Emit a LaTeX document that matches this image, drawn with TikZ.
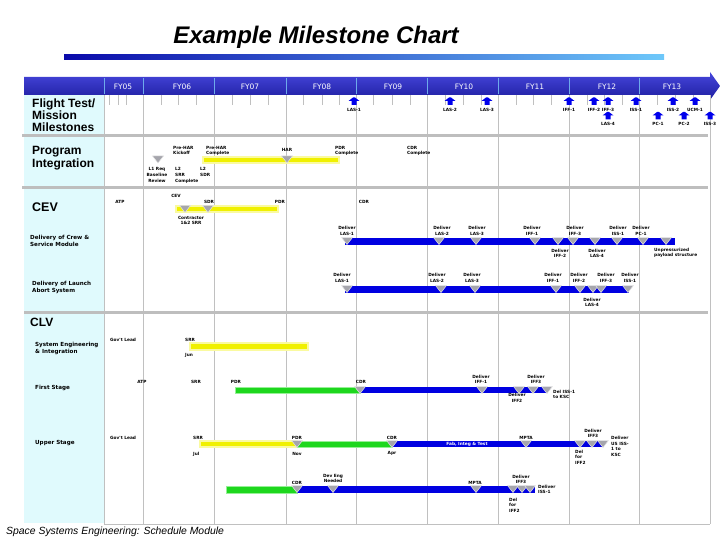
\documentclass[tikz,border=0pt]{standalone}
\usepackage{fontspec}
\setmainfont{Liberation Sans}
\newfontfamily\djv{DejaVu Sans}
\newcommand\lblfont{\djv\bfseries\fontsize{4.3}{5.5}\selectfont}
\newcommand\subfont{\djv\bfseries\fontsize{5.6}{6.8}\selectfont}
\newcommand\hdrfont{\djv\fontsize{7.5}{8}\selectfont}
\definecolor{hdrtop}{RGB}{70,70,220}
\definecolor{hdrbot}{RGB}{30,30,160}
\definecolor{hdrline}{RGB}{110,170,235}
\definecolor{colcyan}{RGB}{224,250,253}
\definecolor{gridgray}{RGB}{192,192,192}
\definecolor{sepgray}{RGB}{190,190,190}
\definecolor{tgray}{RGB}{165,165,172}
\definecolor{arrblue}{RGB}{0,0,235}
\definecolor{barblue}{RGB}{0,0,225}
\definecolor{baryellow}{RGB}{240,240,0}
\definecolor{barglowy}{RGB}{250,250,160}
\definecolor{bargreen}{RGB}{30,215,30}
\definecolor{barglowg}{RGB}{150,240,150}
\definecolor{titledark}{RGB}{10,10,170}
\definecolor{titlelight}{RGB}{110,200,250}
\tikzset{
  lbl/.style={font=\lblfont, inner sep=0pt, align=center, anchor=north},
  lblw/.style={font=\lblfont, inner sep=0pt, align=left, anchor=north west},
  rowlab/.style={inner sep=0pt, align=left, anchor=north west},
  sublab/.style={font=\subfont, inner sep=0pt, align=left, anchor=north west},
  fy/.style={font=\hdrfont, text=white, inner sep=0pt},
  gridline/.style={draw=gridgray, line width=0.9pt},
  sepline/.style={draw=sepgray, line width=3pt},
  ybar/.style={fill=baryellow, draw=barglowy, line width=1.2pt},
  gbar/.style={fill=bargreen, draw=barglowg, line width=1pt},
  bbar/.style={fill=barblue},
  tri/.pic={\filldraw[fill=tgray, draw=white!80!gray, line width=0.5pt] (-5.5,0) -- (5.5,0) -- (0,7) -- cycle;},
  uparr/.pic={\fill[arrblue] (-1,0) -- (1,0) -- (5.5,3.5) -- (2.5,3.5) -- (2.5,7.5) -- (-2.5,7.5) -- (-2.5,3.5) -- (-5.5,3.5) -- cycle;}
}
\begin{document}
\begin{tikzpicture}[x=1pt,y=-1pt]
\useasboundingbox (0,0) rectangle (720,540);
% title
\node[font=\bfseries\itshape\fontsize{24}{24}\selectfont, inner sep=0pt] (title) at (316,37) {Example Milestone Chart};
\shade[left color=titledark, right color=titlelight] (64,55) rectangle (664,60);
% left column
\fill[colcyan] (24,95) rectangle (104,523);
% header
\shade[top color=hdrtop, bottom color=hdrbot] (24,77) -- (710,77) -- (710,72) -- (720,86) -- (710,100) -- (710,95) -- (24,95) -- cycle;
\foreach \x in {104,143,214,286,356,427,498,569,639}
  \draw[hdrline, line width=0.8pt] (\x,78) -- (\x,94);
\foreach \x/\t [count=\i] in {123/FY05,182/FY06,250/FY07,322/FY08,393/FY09,464/FY10,535/FY11,607/FY12,672/FY13}
  \node[fy] (fy\i) at (\x,87) {\t};
% grid
\foreach \x in {104,143,214,286,356,427,498,569,639,710}
  \draw[gridline] (\x,95) -- (\x,524);
\draw[gridline] (104,524) -- (710,524);
\foreach \x in {109,118,126,161,178,196,232,250,268,303,322,339,373,392,410,445,463,481,516,533,551,587,604,622,657,675,693}
  \draw[gridline] (\x,95) -- (\x,105);
% separators
\draw[sepline] (22,136) -- (708,136);
\draw[sepline] (22,187.5) -- (708,187.5);
\draw[sepline] (24,312) -- (708,312);
% row labels
\node[rowlab, font=\bfseries\fontsize{12}{11.6}\selectfont] (rFT) at (32,99) {Flight Test/\\Mission\\Milestones};
\node[rowlab, font=\bfseries\fontsize{12}{13}\selectfont] (rPI) at (32,146) {Program\\Integration};
\node[rowlab, font=\bfseries\fontsize{12.5}{13}\selectfont] (rCEV) at (32,203) {CEV};
\node[sublab] (rCSM) at (30,235.5) {Delivery of Crew \&\\Service Module};
\node[sublab] (rLAS) at (32,281) {Delivery of Launch\\Abort System};
\node[rowlab, font=\bfseries\fontsize{12}{13}\selectfont] (rCLV) at (30,318) {CLV};
\node[sublab] (rSEI) at (35,342.5) {System Engineering\\\& Integration};
\node[sublab] (rFS) at (35,385) {First Stage};
\node[sublab] (rUS) at (35,440) {Upper Stage};
% flight test arrows
\foreach \x/\t [count=\i] in {354/LAS-1,450/LAS-2,487/LAS-3,569/IFF-1,594/IFF-2,608/IFF-3,636/ISS-1,673/ISS-2,695/UCM-1}
  {\pic at (\x,97.5) {uparr}; \node[lbl] (fta\i) at (\x,108) {\t};}
\foreach \x/\t [count=\i] in {608/LAS-4,658/PC-1,684/PC-2,710/ISS-3}
  {\pic at (\x,112) {uparr}; \node[lbl] (ftb\i) at (\x,122.5) {\t};}
% program integration
\path[ybar] (203,157) rectangle (339,163);
\pic at (158,156) {tri};
\pic at (287,156) {tri};
\node[lblw] (pi1) at (173,146) {Pre-HAR\\Kickoff};
\node[lblw] (pi2) at (206,146) {Pre-HAR\\Complete};
\node[lbl] (pi3) at (287,148) {HAR};
\node[lblw] (pi4) at (335,146) {PDR\\Complete};
\node[lblw] (pi5) at (407,146) {CDR\\Complete};
\node[lbl, font=\djv\bfseries\fontsize{4.3}{5.8}\selectfont] (pi6) at (157,167.5) {L1 Req\\Baseline\\Review};
\node[lblw, font=\djv\bfseries\fontsize{4.3}{5.8}\selectfont] (pi7) at (175,167.5) {L2\\SRR\\Complete};
\node[lblw, font=\djv\bfseries\fontsize{4.3}{5.8}\selectfont] (pi8) at (200,167.5) {L2\\SDR};
% CEV
\path[ybar] (176,206) rectangle (278,212);
\pic at (185,205.5) {tri};
\pic at (208,205.5) {tri};
\node[lbl] (cev1) at (120,200) {ATP};
\node[lbl] (cev2) at (176,194) {CEV};
\node[lbl] (cev3) at (209,200) {SDR};
\node[lbl] (cev4) at (280,200) {PDR};
\node[lbl] (cev5) at (364,200) {CDR};
\node[lbl] (cev6) at (191,216) {Contractor\\1\&2 SRR};
% crew & service module
\fill[bbar] (345,238) rectangle (675,245);
\foreach \x in {347,439,476,535,558,573,595,617,643,666}
  \pic at (\x,237.5) {tri};
\foreach \x/\t [count=\i] in {347/LAS-1,442/LAS-2,477/LAS-3,532/IFF-1,575/IFF-3,618/ISS-1,641/PC-1}
  \node[lbl] (csma\i) at (\x,226.5) {Deliver\\\t};
\foreach \x/\t [count=\i] in {560/IFF-2,597/LAS-4}
  \node[lbl] (csmb\i) at (\x,249) {Deliver\\\t};
\node[lblw] (csmc) at (654,248) {Unpressurized\\payload structure};
% launch abort system
\fill[bbar] (345,286) rectangle (629,293);
\foreach \x in {347,441,475,556,580,593,601,628}
  \pic at (\x,285.5) {tri};
\foreach \x/\t [count=\i] in {342/LAS-1,437/LAS-2,472/LAS-3,553/IFF-1,579/IFF-2,606/IFF-3,630/ISS-1}
  \node[lbl] (lasa\i) at (\x,273.5) {Deliver\\\t};
\node[lbl] (lasb) at (592,298) {Deliver\\LAS-4};
% system engineering & integration
\path[ybar] (190,343) rectangle (308,350);
\node[lblw] (sei1) at (110,338) {Gov't Lead};
\node[lblw] (sei2) at (185,338) {SRR};
\node[lblw] (sei3) at (185,353) {Jun};
% first stage
\path[gbar] (235,387) rectangle (360,393);
\fill[bbar] (360,387) rectangle (547,393);
\foreach \x in {360,482,519,533,547}
  \pic at (\x,386.5) {tri};
\node[lbl] (fs1) at (142,380) {ATP};
\node[lbl] (fs2) at (196,380) {SRR};
\node[lbl] (fs3) at (236,380) {PDR};
\node[lbl] (fs4) at (361,380) {CDR};
\node[lbl] (fs5) at (481,375) {Deliver\\IFF-1};
\node[lbl] (fs6) at (536,375) {Deliver\\IFF3};
\node[lbl] (fs7) at (517,393.5) {Deliver\\IFF2};
\node[lblw] (fs8) at (553,390) {Del ISS-1\\to KSC};
% upper stage (1)
\path[ybar] (200,441) rectangle (297,447);
\path[gbar] (297,441) rectangle (392,447);
\fill[bbar] (392,441) rectangle (604,447);
\foreach \x in {297,392,526,580,592,603}
  \pic at (\x,440.5) {tri};
\node[lblw] (us1) at (110,436) {Gov't Lead};
\node[lblw] (us2) at (193,436) {SRR};
\node[lblw] (us3) at (193,452) {Jul};
\node[lbl] (us4) at (297,436) {PDR};
\node[lbl] (us5) at (297,452) {Nov};
\node[lbl] (us6) at (392,436) {CDR};
\node[lbl] (us7) at (392,451) {Apr};
\node[font=\lblfont, text=white, inner sep=0pt] (us8) at (467,444) {Fab, Integ \& Test};
\node[lbl] (us9) at (526,436) {MPTA};
\node[lbl] (us10) at (593,429) {Deliver\\IFF3};
\node[lblw] (us11) at (575,450) {Del\\for\\IFF2};
\node[lblw] (us12) at (611,436.5) {Deliver\\US ISS-\\1 to\\KSC};
% upper stage (2)
\path[gbar] (226,486) rectangle (297,493);
\fill[bbar] (297,486) rectangle (535,493);
\foreach \x in {297,333,476,513,522,530}
  \pic at (\x,485.5) {tri};
\node[lbl] (usb1) at (297,481) {CDR};
\node[lbl] (usb2) at (333,474) {Dev Eng\\Needed};
\node[lbl] (usb3) at (475,481.5) {MPTA};
\node[lbl] (usb4) at (521,475) {Deliver\\IFF3};
\node[lblw] (usb5) at (538,485) {Deliver\\ISS-1};
\node[lblw] (usb6) at (509,498) {Del\\for\\IFF2};
% footer
\node[font=\itshape\fontsize{10.4}{12}\selectfont, inner sep=0pt, anchor=north west] (foot) at (6,527) {Space Systems Engineering: Schedule Module};
\end{tikzpicture}
\end{document}
